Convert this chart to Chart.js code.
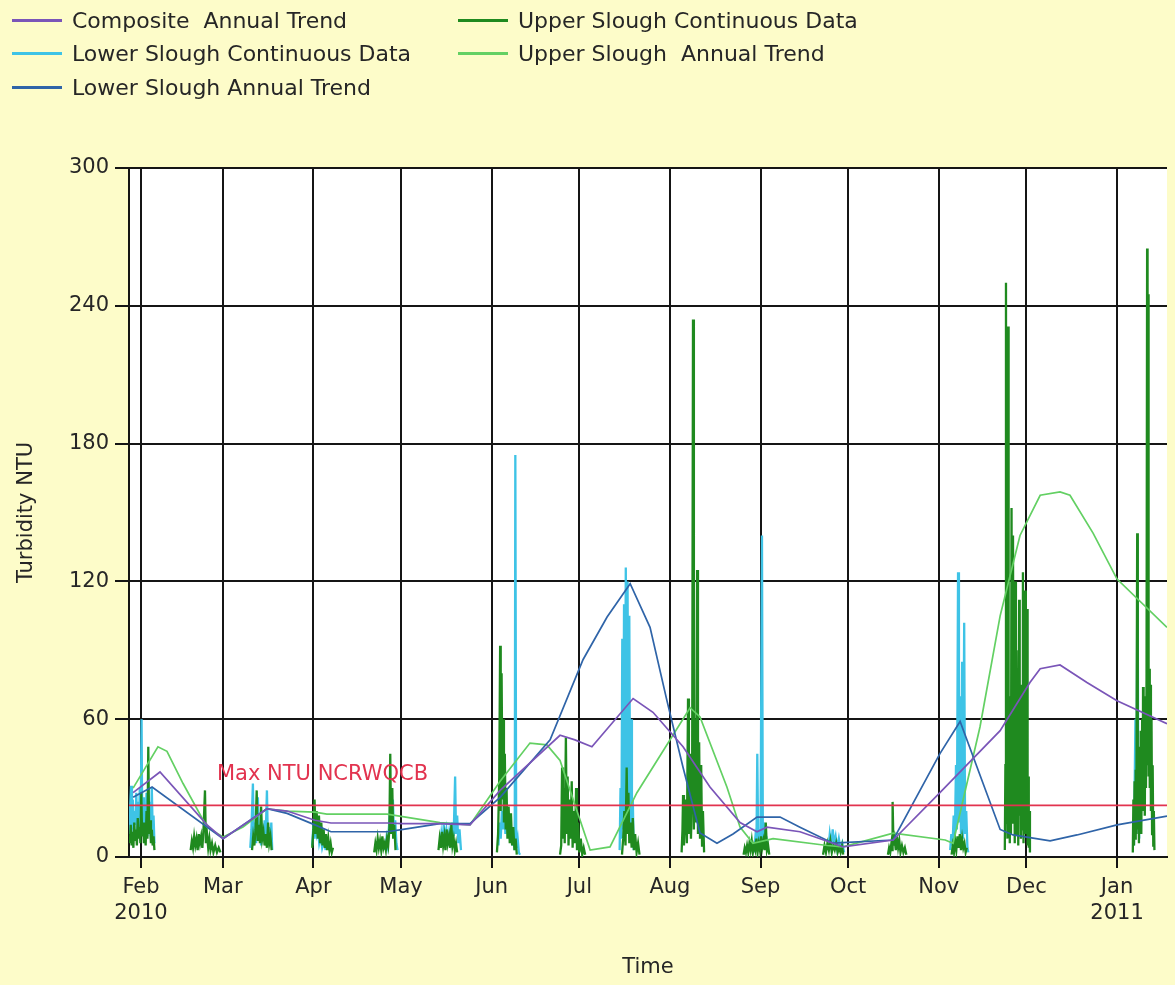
<!DOCTYPE html>
<html>
<head>
<meta charset="utf-8">
<title>Turbidity NTU</title>
<script src="https://cdn.jsdelivr.net/npm/chart.js@4.4.1/dist/chart.umd.min.js"></script>
<style>
  html, body { margin: 0; padding: 0; background: #FDFCC9; }
  #frame { position: relative; width: 1175px; height: 985px; overflow: hidden; }
  #chart { position: absolute; left: 0; top: 0; }
  .legend-item { position: absolute; height: 28px; display: flex; align-items: center;
                 font: 22px "DejaVu Sans", sans-serif; color: #262626; white-space: pre; }
  .legend-swatch { width: 50px; height: 3px; margin-right: 10px; }
</style>
</head>
<body>
<div id="frame">
  <canvas id="chart" width="1175" height="985"></canvas>
  <div id="legend"></div>
</div>
<script>
// Day 0 = 1 Feb 2010
const monthStarts = [0, 28, 59, 89, 120, 150, 181, 212, 242, 273, 303, 334];
const monthLabels = [['Feb', '2010'], 'Mar', 'Apr', 'May', 'Jun', 'Jul', 'Aug', 'Sep', 'Oct', 'Nov', 'Dec', ['Jan', '2011']];
const turbidityTicks = [0, 60, 120, 180, 240, 300];
const dayRange = [-4.1, 351.1];
const maxNtuLimit = 22.5;
const limitLabel = 'Max NTU NCRWQCB';
const limitLabelDay = 26;

// [day, NTU]
const compositeTrend = [
  [-2.7, 28], [6.5, 37], [22.6, 14], [28.1, 8], [43.1, 21], [50, 20], [59.5, 16], [65, 14.8], [84.2, 14.8],
  [89.7, 14.5], [102.3, 14.5], [112.6, 14], [122.9, 29], [143.4, 53], [148.5, 51], [154.3, 48], [168.4, 69],
  [175.2, 63], [185.5, 48], [194.7, 30.5], [205, 15], [210.8, 11], [214.2, 13], [225.5, 11], [236.8, 6],
  [240.2, 4.4], [257.4, 7.4], [273.4, 28], [294, 55], [304.2, 76], [307.7, 82], [314.5, 83.6], [323.7, 76],
  [334, 68], [351.1, 58]
];

const lowerSloughTrend = [
  [-2.7, 26], [3.8, 30.5], [28.1, 8], [43.1, 21], [50, 19], [59.5, 14], [65, 11], [84.2, 11], [89.7, 12],
  [102.3, 14.5], [112.6, 14.5], [122.9, 26], [140, 51], [151.3, 86], [159.5, 104.5], [167.4, 119], [174.2, 100],
  [180, 68], [185.5, 39], [191.3, 10.5], [197.1, 6], [202.6, 10], [210.8, 17.4], [218.7, 17.4], [225.5, 13],
  [236.8, 6], [257.4, 7.4], [273.4, 45], [280.3, 59], [294, 12], [298.4, 9.6], [311.1, 7], [320.3, 9.6],
  [334, 14], [351.1, 17.8]
];

const upperSloughTrend = [
  [-2.7, 30], [5.8, 48], [8.9, 46], [14.4, 32], [22.6, 13], [28.1, 8.7], [34.9, 13], [43.1, 21], [50, 20],
  [59.5, 19.5], [63.6, 18.7], [84.2, 18.7], [102.3, 15], [112.6, 14], [122.9, 33], [133.1, 49.6], [138.9, 48.8],
  [143.4, 42], [153.7, 3], [160.5, 4.4], [169.7, 28], [187.9, 65], [191.3, 61], [200.5, 30.5], [205, 13],
  [209.4, 6], [216.3, 8], [234.8, 5], [240.2, 4.4], [257.4, 10.4], [275.2, 7.4], [277.9, 6], [287.1, 56.6],
  [294, 105], [300.8, 140], [307.7, 157.5], [314.5, 159], [317.9, 157.5], [325.8, 141], [334, 121], [351.1, 100]
];

// logger readings; [day, null] breaks the line between deployments
const lowerSloughReadings = [
  [-4.0, 10], [-3.7, 22], [-3.4, 31], [-3.1, 12], [-2.8, 25], [-2.5, 8], [-2.2, 20], [-1.9, 14], [-1.6, 28],
  [-1.3, 9], [-1.0, 24], [-0.7, 12], [-0.4, 30], [-0.1, 15], [0.2, 60], [0.4, 18], [0.7, 26], [1.0, 10],
  [1.3, 22], [1.6, 12], [1.9, 28], [2.2, 9], [2.5, 20], [2.8, 14], [3.1, 24], [3.4, 8], [3.7, 30], [4.0, 12],
  [4.3, 18], [4.6, 6],
  [10, null],
  [37.4, 4], [37.8, 12], [38.3, 32], [38.6, 8], [39.0, 15], [39.4, 6], [39.8, 18], [40.0, 26], [40.3, 9],
  [40.7, 14], [41.1, 5], [41.5, 12], [41.9, 7], [42.3, 16], [42.7, 10], [43.1, 29], [43.4, 8], [43.8, 13],
  [44.2, 6], [44.6, 15], [44.9, 3],
  [50, null],
  [58.6, 5], [59.0, 14], [59.4, 8], [59.8, 18], [60.2, 10], [60.6, 12], [61.0, 6], [61.5, 9], [62.0, 4],
  [62.6, 7], [63.2, 3],
  [70, null],
  [83.6, 3], [84.0, 8], [84.4, 5], [84.8, 12], [85.2, 20], [85.5, 30], [85.8, 14], [86.2, 25], [86.6, 9],
  [87.0, 16], [87.4, 6], [87.8, 3],
  [95, null],
  [102.4, 4], [102.8, 10], [103.2, 6], [103.6, 14], [104.0, 8], [104.5, 12], [105.0, 5], [105.5, 11],
  [106.0, 7], [106.5, 15], [107.0, 9], [107.5, 35], [107.8, 10], [108.2, 18], [108.6, 6], [109.0, 12], [109.5, 3],
  [115, null],
  [122.3, 5], [122.7, 15], [123.1, 8], [123.5, 20], [123.9, 12], [124.3, 28], [124.7, 10], [125.1, 22],
  [125.5, 14], [125.9, 18], [126.3, 8], [126.7, 12], [127.1, 5], [127.5, 9], [127.9, 3], [128.1, 175],
  [128.4, 4], [128.9, 8], [129.3, 2], [129.7, 1],
  [140, null],
  [163.8, 3], [164.1, 30], [164.4, 8], [164.7, 95], [165.0, 12], [165.3, 110], [165.6, 20], [165.9, 126],
  [166.2, 15], [166.5, 120], [166.8, 25], [167.1, 105], [167.4, 10], [167.7, 60], [168.0, 8], [168.3, 25],
  [168.6, 3],
  [190, null],
  [209.8, 2], [210.2, 8], [210.6, 4], [210.9, 45], [211.2, 6], [211.6, 12], [212.0, 5], [212.5, 140],
  [212.8, 8], [213.2, 15], [213.6, 4], [214.0, 9], [214.5, 2],
  [225, null],
  [235.2, 3], [235.7, 10], [236.2, 5], [236.7, 12], [237.2, 6], [237.7, 9], [238.2, 4], [238.8, 8],
  [239.4, 3], [240.0, 6], [240.6, 2],
  [260, null],
  [276.9, 3], [277.3, 10], [277.7, 5], [278.1, 18], [278.5, 8], [278.9, 40], [279.2, 12], [279.6, 124],
  [279.9, 15], [280.3, 70], [280.6, 10], [281.0, 85], [281.3, 8], [281.7, 102], [282.0, 10], [282.4, 20],
  [282.8, 4], [283.1, 2],
  [320, null],
  [339.8, 5], [340.3, 60], [340.6, 10], [341.0, 138], [341.3, 20], [341.6, 8]
];

const upperSloughReadings = [
  [-3.8, 6], [-3.5, 14], [-3.2, 5], [-2.9, 11], [-2.6, 4], [-2.3, 15], [-2.0, 7], [-1.7, 12], [-1.4, 5],
  [-1.1, 17], [-0.8, 8], [-0.5, 13], [-0.2, 6], [0.1, 28], [0.4, 9], [0.7, 15], [1.0, 6], [1.3, 12], [1.6, 5],
  [1.9, 20], [2.2, 8], [2.5, 48], [2.8, 10], [3.1, 16], [3.4, 6], [3.7, 12], [4.0, 5], [4.3, 9], [4.6, 3],
  [10, null],
  [17.0, 3], [17.4, 7], [17.8, 4], [18.2, 9], [18.6, 5], [19.0, 8], [19.4, 3], [19.8, 10], [20.2, 6],
  [20.6, 9], [21.0, 4], [21.4, 12], [21.9, 29], [22.2, 6], [22.6, 10], [23.0, 4], [23.4, 8], [23.8, 3],
  [24.3, 6], [24.8, 2], [25.4, 5], [26.0, 2], [26.6, 4], [27.2, 2],
  [32, null],
  [38.0, 3], [38.4, 9], [38.8, 5], [39.2, 12], [39.6, 29], [39.9, 7], [40.3, 14], [40.7, 6], [41.1, 22],
  [41.5, 8], [41.9, 11], [42.3, 5], [42.7, 10], [43.1, 4], [43.5, 15], [43.9, 6], [44.3, 9], [44.7, 3],
  [50, null],
  [58.6, 4], [59.0, 12], [59.4, 25], [59.7, 10], [60.1, 20], [60.5, 8], [60.9, 18], [61.3, 6], [61.7, 15],
  [62.1, 5], [62.5, 12], [62.9, 4], [63.3, 10], [63.7, 3], [64.1, 8], [64.5, 3], [64.9, 6], [65.3, 2], [65.7, 4],
  [70, null],
  [79.8, 2], [80.2, 6], [80.6, 3], [81.0, 8], [81.4, 4], [81.8, 7], [82.2, 3], [82.6, 9], [83.0, 4],
  [83.4, 6], [83.8, 3], [84.2, 8], [84.6, 5], [85.0, 12], [85.3, 45], [85.6, 10], [86.0, 30], [86.3, 8],
  [86.7, 14], [87.1, 3],
  [95, null],
  [101.8, 3], [102.2, 8], [102.6, 4], [103.0, 11], [103.4, 5], [103.8, 9], [104.2, 3], [104.6, 12],
  [105.0, 6], [105.4, 9], [105.8, 4], [106.2, 14], [106.6, 5], [107.0, 8], [107.4, 3], [107.8, 6], [108.2, 2],
  [115, null],
  [121.8, 2], [122.2, 10], [122.6, 35], [122.9, 92], [123.1, 20], [123.4, 80], [123.7, 25], [123.9, 60],
  [124.2, 15], [124.5, 45], [124.8, 12], [125.1, 30], [125.4, 8], [125.8, 22], [126.2, 6], [126.6, 19],
  [127.0, 5], [127.4, 13], [127.8, 3], [128.2, 8], [128.6, 1],
  [135, null],
  [143.4, 1], [143.8, 5], [144.1, 39], [144.4, 8], [144.7, 30], [145.0, 6], [145.4, 52], [145.7, 10],
  [146.0, 35], [146.3, 5], [146.7, 25], [147.0, 8], [147.4, 33], [147.7, 4], [148.1, 20], [148.5, 6],
  [148.9, 30], [149.2, 3], [149.6, 15], [150.0, 2], [150.5, 8], [151.0, 1], [151.5, 4], [152.0, 1],
  [158, null],
  [164.6, 1], [165.0, 8], [165.4, 20], [165.8, 5], [166.2, 39], [166.5, 10], [166.8, 28], [167.1, 6],
  [167.5, 15], [167.9, 4], [168.3, 17], [168.7, 3], [169.1, 10], [169.6, 2], [170.1, 6], [170.6, 1],
  [178, null],
  [185.0, 2], [185.3, 12], [185.5, 27], [185.8, 5], [186.2, 18], [186.5, 25], [186.8, 6], [187.2, 69],
  [187.5, 10], [187.9, 45], [188.2, 8], [188.6, 30], [188.9, 234], [189.2, 12], [189.6, 60], [189.9, 15],
  [190.3, 125], [190.6, 10], [191.0, 50], [191.3, 8], [191.7, 40], [192.0, 5], [192.3, 20], [192.7, 2],
  [200, null],
  [206.2, 1], [206.6, 4], [207.0, 2], [207.4, 5], [207.8, 2], [208.2, 6], [208.6, 3], [209.0, 7], [209.4, 2],
  [209.8, 5], [210.2, 3], [210.6, 8], [211.0, 2], [211.4, 6], [211.8, 3], [212.2, 9], [212.6, 4], [213.0, 7],
  [213.4, 3], [213.8, 15], [214.2, 3], [214.6, 5], [215.0, 1],
  [225, null],
  [233.4, 1], [233.9, 5], [234.4, 2], [234.9, 6], [235.4, 3], [235.9, 7], [236.4, 2], [236.9, 5], [237.4, 3],
  [237.9, 6], [238.4, 2], [238.9, 4], [239.4, 2], [239.9, 5], [240.3, 1],
  [248, null],
  [255.6, 1], [256.0, 4], [256.4, 2], [256.8, 6], [257.0, 3], [257.2, 24], [257.5, 5], [257.9, 8], [258.3, 3],
  [258.7, 9], [259.1, 4], [259.5, 7], [259.9, 2], [260.4, 5], [260.9, 2], [261.4, 4], [261.9, 1],
  [270, null],
  [277.4, 1], [277.8, 5], [278.2, 2], [278.6, 7], [279.0, 3], [279.4, 9], [279.8, 4], [280.2, 10], [280.6, 3],
  [281.0, 8], [281.4, 4], [281.8, 6], [282.2, 2], [282.6, 4],
  [290, null],
  [295.6, 3], [295.8, 40], [296.0, 250], [296.1, 15], [296.3, 60], [296.5, 8], [296.7, 231], [296.9, 12],
  [297.1, 70], [297.3, 6], [297.5, 45], [297.7, 10], [297.9, 152], [298.1, 15], [298.4, 140], [298.6, 20],
  [298.8, 55], [299.0, 6], [299.2, 120], [299.4, 25], [299.6, 90], [299.8, 10], [300.0, 60], [300.2, 5],
  [300.5, 112], [300.7, 18], [300.9, 75], [301.1, 8], [301.3, 50], [301.5, 12], [301.8, 124], [302.0, 6],
  [302.2, 70], [302.4, 15], [302.6, 116], [302.8, 10], [303.0, 45], [303.2, 108], [303.4, 5], [303.6, 35],
  [303.8, 4], [304.0, 20], [304.2, 2],
  [320, null],
  [339.4, 2], [339.6, 25], [339.8, 5], [340.0, 33], [340.2, 8], [340.4, 38], [340.6, 10], [340.9, 141],
  [341.1, 12], [341.3, 40], [341.5, 6], [341.7, 48], [341.9, 15], [342.1, 55], [342.3, 10], [342.6, 60],
  [342.8, 20], [342.9, 74], [343.1, 25], [343.3, 65], [343.5, 18], [343.7, 70], [343.9, 30], [344.1, 78],
  [344.3, 265], [344.45, 40], [344.6, 245], [344.8, 35], [345.0, 82], [345.2, 30], [345.4, 75], [345.6, 20],
  [345.8, 60], [346.0, 10], [346.2, 40], [346.4, 5], [346.6, 20], [346.8, 3]
];

const seriesColors = {
  composite: '#7A55B8',
  lowerData: '#3EC3E6',
  lowerTrend: '#2F64A8',
  upperData: '#1F8A1F',
  upperTrend: '#63D063',
  limit: '#E2334F'
};

const toPoints = rows => rows.map(([x, y]) => ({ x, y }));

function lineSet(label, rows, color, width, order) {
  return {
    label, data: toPoints(rows), borderColor: color, backgroundColor: color,
    borderWidth: width, pointRadius: 0, tension: 0, spanGaps: false, order
  };
}

const datasets = [
  lineSet('Composite  Annual Trend', compositeTrend, seriesColors.composite, 1.7, 1),
  lineSet('Lower Slough Continuous Data', lowerSloughReadings, seriesColors.lowerData, 2.3, 4),
  lineSet('Lower Slough Annual Trend', lowerSloughTrend, seriesColors.lowerTrend, 1.7, 1),
  lineSet('Upper Slough Continuous Data', upperSloughReadings, seriesColors.upperData, 2.3, 3),
  lineSet('Upper Slough  Annual Trend', upperSloughTrend, seriesColors.upperTrend, 1.7, 1),
  lineSet(limitLabel, [[dayRange[0], maxNtuLimit], [dayRange[1], maxNtuLimit]], seriesColors.limit, 1.6, 0)
];

const FONT = '"DejaVu Sans", sans-serif';
const INK = '#262626';
const GRID = '#151515';

const decorations = {
  id: 'decorations',
  beforeDraw(chart) {
    const { ctx, chartArea: a } = chart;
    ctx.save();
    ctx.fillStyle = '#ffffff';
    ctx.fillRect(a.left, a.top, a.right - a.left, a.bottom - a.top);
    ctx.restore();
  },
  afterDraw(chart) {
    const { ctx, chartArea: a, scales: { x, y } } = chart;
    ctx.save();
    ctx.font = '21px ' + FONT;
    ctx.textBaseline = 'middle';
    ctx.fillStyle = seriesColors.limit;
    ctx.textAlign = 'left';
    ctx.fillText(limitLabel, x.getPixelForValue(limitLabelDay), y.getPixelForValue(maxNtuLimit) - 31);
    ctx.fillStyle = INK;
    ctx.textAlign = 'center';
    ctx.fillText('Time', (a.left + a.right) / 2, 968);
    ctx.translate(27, (a.top + a.bottom) / 2);
    ctx.rotate(-Math.PI / 2);
    ctx.fillText('Turbidity NTU', 0, 0);
    ctx.restore();
  }
};

const chart = new Chart(document.getElementById('chart'), {
  type: 'line',
  data: { datasets },
  options: {
    responsive: false,
    animation: false,
    events: [],
    devicePixelRatio: 1,
    layout: { padding: { left: 0, top: 168, right: 8, bottom: 0 } },
    plugins: { legend: { display: false }, tooltip: { enabled: false } },
    scales: {
      x: {
        type: 'linear',
        min: dayRange[0],
        max: dayRange[1],
        afterBuildTicks: s => { s.ticks = monthStarts.map(v => ({ value: v })); },
        afterFit: s => { s.height = 128; },
        ticks: {
          autoSkip: false, maxRotation: 0, minRotation: 0, padding: 7, color: INK,
          font: { family: FONT, size: 21, lineHeight: 1.22 },
          callback: (v, i) => monthLabels[i]
        },
        grid: { color: GRID, lineWidth: 2, tickLength: 11 },
        border: { color: GRID, width: 2 }
      },
      y: {
        type: 'linear',
        min: turbidityTicks[0],
        max: turbidityTicks[turbidityTicks.length - 1],
        afterBuildTicks: s => { s.ticks = turbidityTicks.map(v => ({ value: v })); },
        afterFit: s => { s.width = 129; },
        ticks: { padding: 6, color: INK, font: { family: FONT, size: 21 } },
        grid: { color: GRID, lineWidth: 2, tickLength: 14 },
        border: { color: GRID, width: 2 }
      }
    }
  },
  plugins: [decorations]
});

// two-column legend built from the datasets above
const legendBox = document.getElementById('legend');
chart.data.datasets.slice(0, 5).forEach((ds, i) => {
  const col = Math.floor(i / 3), row = i % 3;
  const item = document.createElement('div');
  item.className = 'legend-item';
  item.style.left = (12 + col * 446) + 'px';
  item.style.top = (6 + row * 33.5) + 'px';
  const sw = document.createElement('span');
  sw.className = 'legend-swatch';
  sw.style.background = ds.borderColor;
  const tx = document.createElement('span');
  tx.textContent = ds.label;
  item.appendChild(sw);
  item.appendChild(tx);
  legendBox.appendChild(item);
});
</script>
</body>
</html>
